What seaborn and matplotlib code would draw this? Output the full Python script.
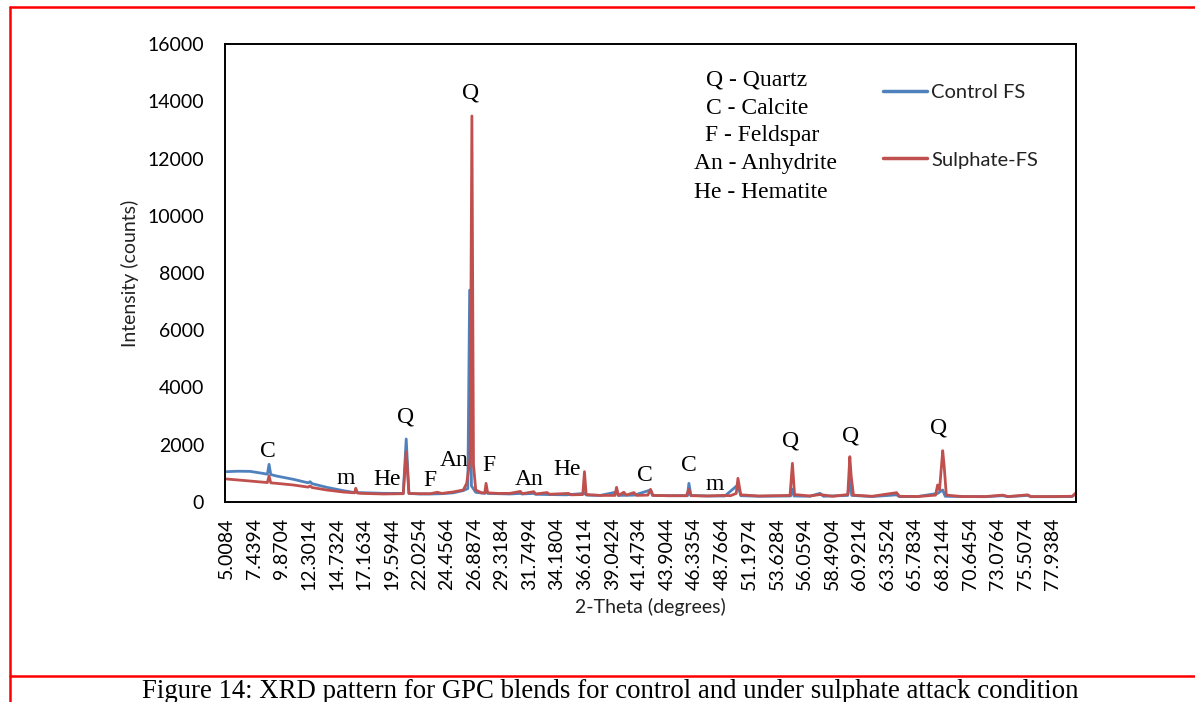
import matplotlib
matplotlib.use("Agg")
import matplotlib.pyplot as plt
from matplotlib.lines import Line2D
import seaborn as sns

# ---------------- data ----------------
control_theta = [5.01, 6.0, 7.07, 8.2, 8.6, 8.75, 8.9, 9.4, 10.9, 12.2, 12.37, 12.55,
                 13.85, 15.3, 16.3, 16.41, 16.55, 16.8, 18.85, 20.6, 20.86, 21.1, 22.0,
                 23.0, 24.0, 25.0, 25.9, 26.3, 26.46, 26.62, 27.0, 27.8, 27.91, 28.05,
                 29.0, 30.0, 30.94, 31.1, 32.12, 32.3, 33.5, 35.0, 36.6, 36.8, 38.0,
                 39.43, 39.6, 41.0, 42.43, 42.6, 44.0, 45.7, 45.82, 46.0, 47.5, 49.0,
                 50.15, 50.4, 52.0, 54.8, 54.96, 55.1, 56.5, 57.4, 57.7, 59.85, 60.03,
                 60.2, 62.0, 64.16, 64.4, 66.0, 67.78, 68.23, 68.45, 70.0, 72.0, 73.53,
                 74.0, 75.74, 76.0, 78.0, 79.6, 80.0]
control_counts = [1060, 1075, 1070, 1000, 970, 1316, 960, 908, 792, 670, 710, 640,
                  512, 396, 330, 380, 325, 326, 303, 300, 2201, 300, 280,
                  280, 290, 320, 400, 470, 7400, 560, 340, 300, 450, 300,
                  290, 280, 300, 280, 300, 270, 260, 250, 300, 240, 230,
                  350, 230, 240, 420, 230, 220, 220, 652, 230, 210, 210,
                  600, 220, 200, 210, 450, 210, 200, 303, 200, 230, 769,
                  230, 190, 250, 190, 190, 300, 420, 200, 190, 185, 220,
                  185, 230, 185, 185, 190, 280]

sulphate_theta = [5.01, 6.0, 7.07, 8.0, 8.6, 8.75, 8.9, 9.4, 10.9, 12.2, 12.37, 12.55,
                  13.85, 15.3, 16.3, 16.41, 16.55, 16.8, 18.85, 20.6, 20.86, 21.1, 22.0,
                  23.0, 23.6, 24.0, 25.0, 25.9, 26.2, 26.5, 26.66, 26.8, 27.0, 27.5,
                  27.8, 27.91, 28.05, 29.0, 30.0, 30.94, 31.1, 32.12, 32.3, 33.3, 33.5,
                  35.2, 35.4, 36.45, 36.6, 36.75, 38.0, 39.3, 39.43, 39.6, 40.07, 40.3,
                  40.96, 41.2, 42.2, 42.43, 42.65, 44.0, 45.6, 45.82, 46.0, 47.5, 48.8,
                  49.5, 50.0, 50.15, 50.4, 52.0, 54.75, 54.96, 55.15, 56.5, 57.4, 58.5,
                  59.85, 60.03, 60.15, 60.35, 62.0, 64.16, 64.4, 66.0, 67.6, 67.78,
                  67.95, 68.23, 68.35, 68.55, 70.0, 72.0, 73.53, 74.0, 75.74, 76.0,
                  78.0, 79.7, 80.0]
sulphate_counts = [803, 770, 733, 700, 680, 908, 670, 652, 594, 520, 560, 505,
                   419, 349, 320, 480, 315, 303, 280, 290, 1758, 300, 290,
                   290, 340, 300, 350, 420, 652, 1500, 13485, 1300, 420, 320,
                   320, 652, 320, 300, 300, 370, 290, 360, 280, 330, 270,
                   300, 250, 260, 1060, 260, 230, 230, 512, 230, 340, 240,
                   330, 230, 240, 442, 230, 220, 220, 442, 220, 210, 230,
                   220, 300, 827, 250, 210, 230, 1351, 260, 210, 260, 200,
                   260, 1584, 900, 240, 200, 326, 200, 190, 240, 594,
                   420, 1793, 1300, 240, 190, 190, 240, 190, 250, 190,
                   190, 200, 330]

tick_labels = ["5.0084", "7.4394", "9.8704", "12.3014", "14.7324", "17.1634",
               "19.5944", "22.0254", "24.4564", "26.8874", "29.3184", "31.7494",
               "34.1804", "36.6114", "39.0424", "41.4734", "43.9044", "46.3354",
               "48.7664", "51.1974", "53.6284", "56.0594", "58.4904", "60.9214",
               "63.3524", "65.7834", "68.2144", "70.6454", "73.0764", "75.5074",
               "77.9384"]
y_ticks = [0, 2000, 4000, 6000, 8000, 10000, 12000, 14000, 16000]

peak_labels = ["C", "m", "He", "Q", "F", "An", "Q", "F", "An", "He", "C", "C", "m",
               "Q", "Q", "Q"]
label_theta = [8.66, 15.56, 19.18, 20.77, 22.98, 25.10, 26.51, 28.19, 31.74, 35.10,
               41.90, 45.79, 48.09, 54.81, 60.11, 67.89]
label_counts = [1747, 838, 769, 2969, 734, 1467, 14288, 1258, 769, 1118, 943, 1258,
                594, 2131, 2306, 2585]

key_lines = ["Q - Quartz", "C - Calcite", "F - Feldspar", "An - Anhydrite",
             "He - Hematite"]

series_names = ["Control FS", "Sulphate-FS"]
series_colors = ["#4F81BD", "#C0504D"]

# ---------------- figure ----------------
sns.set_theme(style="white")
plt.rcParams["font.family"] = ["Lato", "DejaVu Sans"]

fig = plt.figure(figsize=(11.95, 7.02), dpi=100)
ax = fig.add_axes([225 / 1195, 1 - 502 / 702, (1076 - 225) / 1195, (502 - 44) / 702])

sns.lineplot(x=control_theta, y=control_counts, ax=ax, color=series_colors[0],
             linewidth=2.0, label=series_names[0], sort=False, estimator=None)
sns.lineplot(x=sulphate_theta, y=sulphate_counts, ax=ax, color=series_colors[1],
             linewidth=2.0, label=series_names[1], sort=False, estimator=None)

ax.set_xlim(4.86, 80.0)
ax.set_ylim(0, 16000)
ax.set_xticks([float(t) for t in tick_labels])
ax.set_xticklabels(tick_labels, rotation=90, fontsize=14)
ax.set_yticks(y_ticks)
ax.set_yticklabels([str(v) for v in y_ticks], fontsize=14)
ax.tick_params(axis="both", length=0, colors="black")
ax.tick_params(axis="x", pad=11.5)
ax.tick_params(axis="y", pad=15)
for s in ax.spines.values():
    s.set_color("black")
    s.set_linewidth(1.4)

ax.set_xlabel("2-Theta (degrees)", fontsize=14, color="#222222")
ax.set_ylabel("Intensity (counts)", fontsize=14, color="#222222")
ax.xaxis.set_label_coords(0.5, -(598 - 502) / 458)
ax.yaxis.set_label_coords(-(225 - 139) / 851, 0.5)

serif = ["Liberation Serif", "DejaVu Serif"]
for lab, tx, ty in zip(peak_labels, label_theta, label_counts):
    ax.text(tx, ty, lab, ha="center", va="center", fontsize=17, family=serif,
            color="black")

key_x = [706, 706, 705, 694, 694]
key_y = [80, 108, 136, 163, 192]
for txt, kx, ky in zip(key_lines, key_x, key_y):
    fig.text(kx / 1195, 1 - ky / 702, txt, ha="left", va="center", fontsize=17,
             family=serif, color="black")

leg = ax.legend(loc="upper left", bbox_to_anchor=(883 / 1195, 1 - 84 / 702),
                bbox_transform=fig.transFigure, frameon=False, fontsize=14.5,
                handlelength=2.2, handletextpad=0.2, labelspacing=2.5,
                borderpad=0, borderaxespad=0)
for line in leg.get_lines():
    line.set_linewidth(2.5)
for t in leg.get_texts():
    t.set_color("#222222")

# red page frame and caption
red = "#FF0000"
fig.add_artist(Line2D([10 / 1195, 1.0], [1 - 7 / 702, 1 - 7 / 702], color=red,
                      linewidth=1.8, transform=fig.transFigure))
fig.add_artist(Line2D([10 / 1195, 10 / 1195], [1 - 7 / 702, 0.0], color=red,
                      linewidth=1.8, transform=fig.transFigure))
fig.add_artist(Line2D([10 / 1195, 1.0], [1 - 676 / 702, 1 - 676 / 702], color=red,
                      linewidth=1.8, transform=fig.transFigure))
fig.text(610 / 1195, 1 - 698 / 702,
         "Figure 14: XRD pattern for GPC blends for control and under sulphate attack condition",
         ha="center", va="baseline", fontsize=19.3, family=serif, color="black")

fig.savefig("out.png", dpi=100)
